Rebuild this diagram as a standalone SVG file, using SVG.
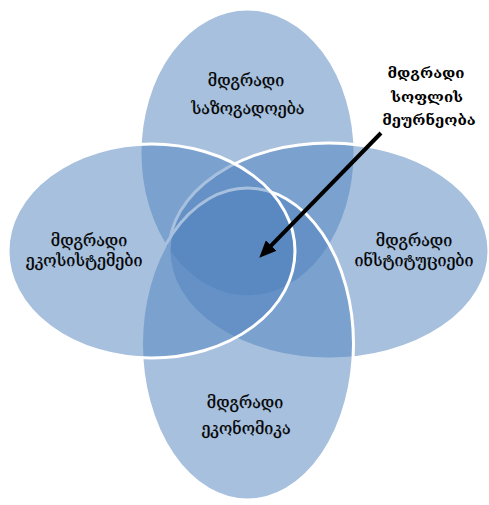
<svg xmlns="http://www.w3.org/2000/svg" width="489" height="505" viewBox="0 0 489 505">
<style>
.el{fill:#4F81BD;fill-opacity:0.5;stroke:#FFFFFF;stroke-width:3}
.t{font-family:"DejaVu Serif","DejaVu Sans",sans-serif;font-size:16px;fill:#000;text-anchor:middle;stroke:#000;stroke-width:0.25}
.lb{font-family:"DejaVu Serif","DejaVu Sans",sans-serif;font-size:15px;font-weight:bold;fill:#000;text-anchor:middle}
</style>
<defs>
<marker id="ah" markerUnits="userSpaceOnUse" markerWidth="17" markerHeight="15" refX="4" refY="7.5" orient="auto">
<path d="M0,0 L17,7.5 L0,15 z" fill="#000"/>
</marker>
</defs>
<rect width="489" height="505" fill="#FFFFFF"/>
<g id="node-top">
<ellipse class="el" cx="247.5" cy="153" rx="107.5" ry="144"/>
<text class="t" x="246" y="86">მდგრადი</text>
<text class="t" x="248" y="114">საზოგადოება</text>
</g>
<g id="node-right">
<ellipse class="el" cx="329" cy="251" rx="160" ry="108"/>
<text class="t" x="414" y="246">მდგრადი</text>
<text class="t" x="414" y="266">ინსტიტუციები</text>
</g>
<g id="node-bottom">
<ellipse class="el" cx="247.5" cy="344" rx="106" ry="156"/>
<text class="t" x="245" y="408">მდგრადი</text>
<text class="t" x="246" y="434">ეკონომიკა</text>
</g>
<g id="node-left">
<ellipse class="el" cx="151.5" cy="251" rx="143.5" ry="107"/>
<text class="t" x="89" y="246">მდგრადი</text>
<text class="t" x="84" y="266">ეკოსისტემები</text>
</g>
<g id="label-agriculture">
<text class="lb" x="426" y="78">მდგრადი</text>
<text class="lb" x="427" y="102">სოფლის</text>
<text class="lb" x="429" y="125">მეურნეობა</text>
</g>
<g id="connectors">
<line x1="381" y1="133" x2="268.4" y2="248.4" stroke="#000" stroke-width="4" marker-end="url(#ah)"/>
</g>
</svg>
